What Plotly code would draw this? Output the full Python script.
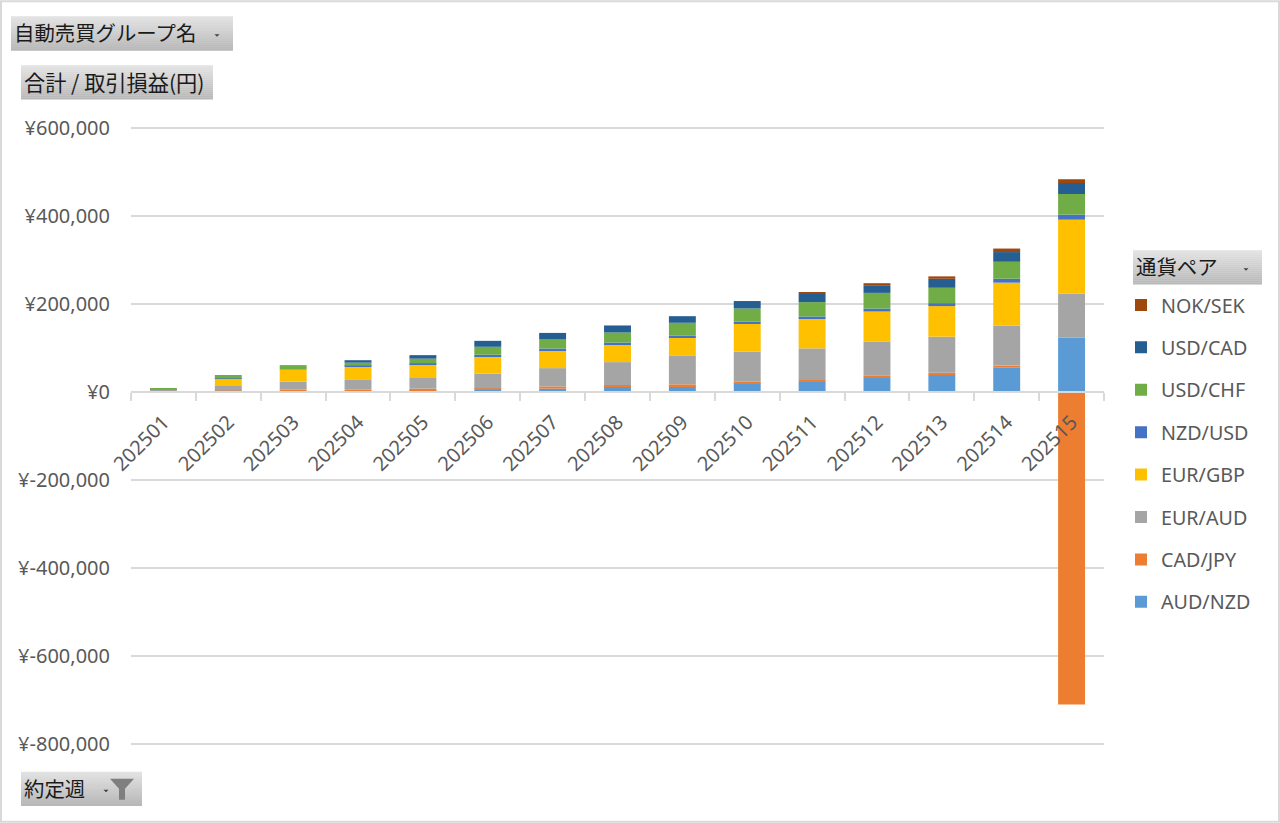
import plotly.graph_objects as go

weeks = ["202501","202502","202503","202504","202505","202506","202507","202508",
         "202509","202510","202511","202512","202513","202514","202515"]
aud_nzd = [0, 0, 0, 0, 3000, 4500, 7500, 11300, 12800, 19600, 22700, 31700, 38500, 55000, 123000]
cad_jpy = [0, 3000, 5300, 5300, 4500, 3800, 5000, 4500, 4500, 4500, 4500, 5000, 5000, 5000, -710000]
eur_aud = [5500, 10600, 18000, 22000, 24200, 33300, 41600, 52000, 65800, 67300, 71800, 78000, 82000, 90700, 99800]
eur_gbp = [500, 16600, 27200, 30200, 31000, 40000, 40800, 40000, 40000, 63500, 68000, 68000, 69500, 97500, 168600]
nzd_usd = [0, 500, 0, 2300, 2300, 3000, 3800, 4500, 4500, 4500, 4500, 6800, 6800, 9000, 11300]
usd_chf = [3000, 7800, 10500, 6800, 10600, 18000, 20400, 22700, 29500, 30200, 32500, 35500, 34800, 38500, 46900]
usd_cad = [0, 0, 0, 5500, 8000, 13500, 15000, 16000, 15000, 16900, 18900, 16000, 20400, 22000, 25000]
nok_sek = [0, 0, 0, 0, 0, 0, 0, 0, 0, 0, 2300, 6000, 5500, 8000, 8500]

series_names = ["AUD/NZD","CAD/JPY","EUR/AUD","EUR/GBP","NZD/USD","USD/CHF","USD/CAD","NOK/SEK"]
series_values = [aud_nzd, cad_jpy, eur_aud, eur_gbp, nzd_usd, usd_chf, usd_cad, nok_sek]
series_colors = ["#5B9BD5","#ED7D31","#A5A5A5","#FFC000","#4472C4","#70AD47","#255E91","#9E480E"]

y_ticks = [600000, 400000, 200000, 0, -200000, -400000, -600000, -800000]
y_labels = ["¥600,000","¥400,000","¥200,000","¥0","¥-200,000","¥-400,000","¥-600,000","¥-800,000"]
y_range = [-804000, 604000]

L, R, T, B = 131, 1104, 125.735, 746.265
W, H = 1280, 823
TEXT = "#595959"
GRID = "#D9D9D9"
CJK = "Noto Sans CJK JP"
LATIN = "Noto Sans"

def px(x): return (x - L) / (R - L)
def py(y): return (B - y) / (B - T)

fig = go.Figure()
for i, (name, vals, col) in enumerate(zip(series_names, series_values, series_colors)):
    fig.add_trace(go.Bar(x=weeks, y=vals, name=name, width=0.415, legendgroup=name,
                         legendrank=100 - i,
                         marker=dict(color=col, line=dict(width=0))))

shapes, annots = [], []

# outer chart frame
shapes.append(dict(type="rect", xref="paper", yref="paper", x0=px(1), x1=px(1279), y0=py(822), y1=py(1),
                   line=dict(color=GRID, width=2), fillcolor="rgba(0,0,0,0)", layer="below"))

def button(x0, y0, x1, y1, label, caret_x=None, funnel=False, size=20.4):
    n = 17
    top, bottom = (226, 226, 226), (184, 184, 184)
    h = (y1 - y0) / n
    for i in range(n):
        t = i / (n - 1)
        c = tuple(round(a + (b - a) * t) for a, b in zip(top, bottom))
        shapes.append(dict(type="rect", xref="paper", yref="paper", x0=px(x0), x1=px(x1),
                           y0=py(y0 + i * h), y1=py(y0 + (i + 1) * h + 0.3),
                           fillcolor=f"rgb{c}", line=dict(width=0), layer="above"))
    annots.append(dict(text=label, xref="paper", yref="paper", x=px(x0 + 0.5), y=py((y0 + y1) / 2 - 1),
                       xanchor="left", yanchor="middle", showarrow=False,
                       font=dict(family=CJK, size=size, color="#1A1A1A")))
    if caret_x is not None:
        cy = (y0 + y1) / 2 + 1
        path = (f"M {px(caret_x-2.5)} {py(cy)} L {px(caret_x+2.5)} {py(cy)} L {px(caret_x)} {py(cy+2.5)} Z")
        shapes.append(dict(type="path", xref="paper", yref="paper", path=path,
                           fillcolor="#404040", line=dict(width=0), layer="above"))
    if funnel:
        fx = x1 - 20
        p = (f"M {px(fx-12)} {py(y0+7)} L {px(fx+12)} {py(y0+7)} L {px(fx+3)} {py(y0+17)} "
             f"L {px(fx+3)} {py(y0+28)} L {px(fx-3)} {py(y0+28)} L {px(fx-3)} {py(y0+17)} Z")
        shapes.append(dict(type="path", xref="paper", yref="paper", path=p,
                           fillcolor="#7F7F7F", line=dict(width=0), layer="above"))

button(11, 16, 233, 50, "自動売買グループ名", 217)
button(21, 65, 213, 99, "合計 / 取引損益(円)", size=21.2)
button(1133, 250, 1262, 284, "通貨ペア", 1246)
button(21, 772, 142, 806, "約定週", 106, funnel=True)

fig.update_layout(
    width=W, height=H, autosize=False,
    margin=dict(l=L, r=W - R, t=T, b=H - B, pad=0),
    paper_bgcolor="white", plot_bgcolor="white",
    barmode="relative",
    font=dict(family=LATIN, size=18, color=TEXT),
    xaxis=dict(type="category", categoryorder="array", categoryarray=weeks,
               anchor="free", position=-y_range[0] / (y_range[1] - y_range[0]),
               tickson="boundaries", ticks="outside", ticklen=8, tickwidth=1.5, tickcolor=GRID,
               showline=True, linecolor=GRID, linewidth=1.5, showgrid=False,
               tickangle=-45, tickfont=dict(family=LATIN, size=20, color=TEXT),
               ticklabelstandoff=10, ticklabelshift=0,
               range=[-0.5, 14.5], fixedrange=True),
    yaxis=dict(range=y_range, tickmode="array", tickvals=y_ticks, ticktext=y_labels,
               showgrid=True, gridcolor=GRID, gridwidth=1.5, zeroline=False,
               ticks="", showline=False, ticklabelstandoff=20,
               tickfont=dict(family=LATIN, size=20, color=TEXT), fixedrange=True),
    legend=dict(x=px(1121), y=py(285.5), xanchor="left", yanchor="top",
                traceorder="grouped", tracegroupgap=13.8,
                bgcolor="rgba(0,0,0,0)", font=dict(family=LATIN, size=19.7, color=TEXT),
                itemclick=False, itemdoubleclick=False),
    shapes=shapes, annotations=annots, showlegend=True,
)

fig.write_html("out.html", config={"displayModeBar": False},
               post_script="document.body.style.margin='0';document.body.style.overflow='hidden';")
